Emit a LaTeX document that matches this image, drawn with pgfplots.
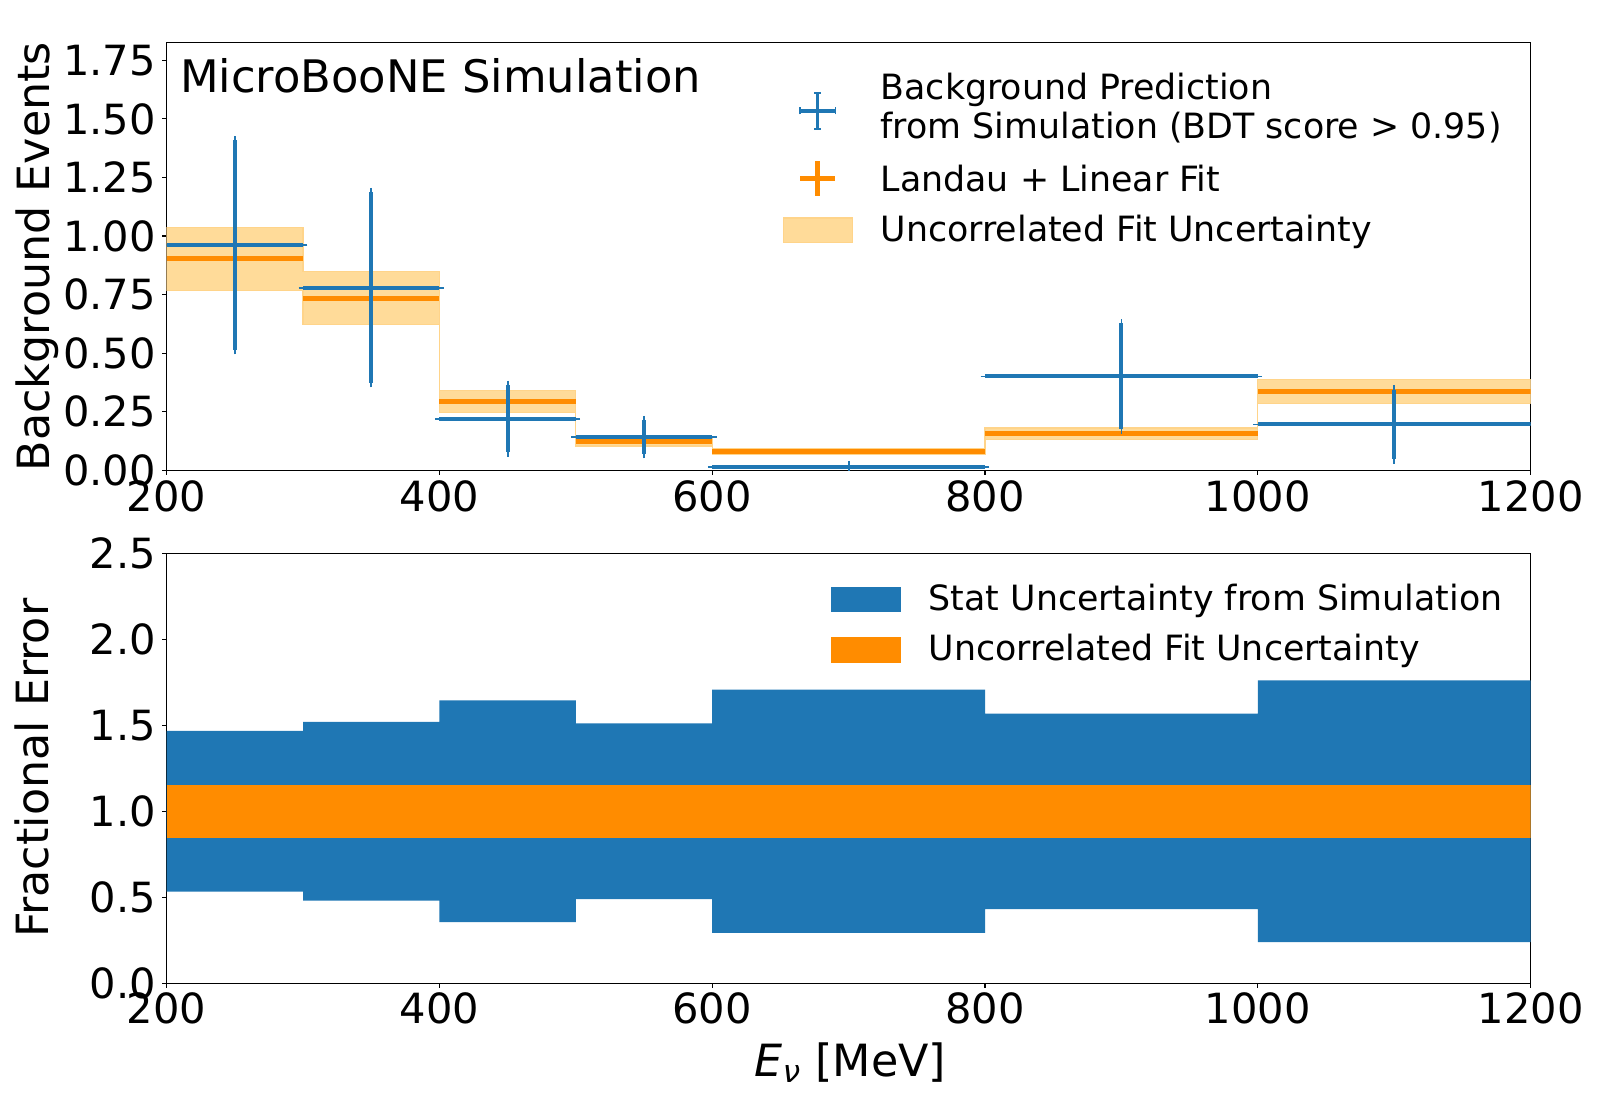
\documentclass[border=0pt]{standalone}
\usepackage{pgfplots}
\pgfplotsset{compat=1.18}
\usepackage{fontspec}
\setmainfont{DejaVu Sans}
\definecolor{c0}{HTML}{1F77B4}
\definecolor{dorange}{HTML}{FF8C00}
\definecolor{band}{HTML}{FFDB99}
\definecolor{bandedge}{HTML}{FFD48A}

\pgfplotstableread{
x y xe ye
250 0.961 50 0.447
350 0.780 50 0.407
450 0.221 50 0.143
550 0.142 50 0.072
700 0.013 100 0.009
900 0.401 100 0.226
1100 0.196 100 0.149
}\simdata
\pgfplotstableread{
x y xe
250 0.906 50
350 0.735 50
450 0.294 50
550 0.123 50
700 0.079 100
900 0.157 100
1100 0.337 100
}\fitdata

\pgfplotsset{
  myaxis/.style={
    scale only axis, width=682pt, anchor=south west,
    xmin=200, xmax=1200,
    xtick={200,400,600,800,1000,1200},
    axis line style={line width=0.55pt},
    tick align=outside, tick pos=left,
    major tick length=2.2pt,
    every tick/.style={black, line width=0.55pt},
    /pgf/number format/assume math mode=true,
    /pgf/number format/1000 sep={},
    tick label style={font=\fontsize{20.8}{24}\selectfont, inner sep=0pt},
    xticklabel style={yshift=-2.5pt},
    yticklabel style={xshift=-3pt},
    legend style={draw=none, fill=none, inner sep=0pt, outer sep=0pt,
      column sep=12pt, row sep=0pt,
      cells={anchor=base west, inner sep=0pt},
      font=\fontsize{17.4}{19.8}\selectfont},
  }
}

\begin{document}
\begin{tikzpicture}
\path[use as bounding box] (0,0) rectangle (800pt,550pt);

% ---------------- top panel ----------------
\begin{axis}[myaxis, height=213.85pt, at={(83.3pt,314.8pt)},
  ymin=0, ymax=1.825,
  ytick={0,0.25,0.5,0.75,1,1.25,1.5,1.75},
  yticklabel style={/pgf/number format/.cd, fixed, fixed zerofill, precision=2},
  legend style={at={(rel axis cs:0,1)}, anchor=north west, xshift=308.05pt, yshift=-14.3pt},
]
\addplot[fill=band, draw=bandedge, line width=0.6pt, forget plot] coordinates {
(200,1.038)(300,1.038)(300,0.848)(400,0.848)(400,0.340)(500,0.340)(500,0.142)(600,0.142)
(600,0.091)(800,0.091)(800,0.181)(1000,0.181)(1000,0.389)(1200,0.389)
(1200,0.285)(1000,0.285)(1000,0.133)(800,0.133)(800,0.067)(600,0.067)(600,0.104)(500,0.104)
(500,0.248)(400,0.248)(400,0.621)(300,0.621)(300,0.766)(200,0.766)} -- cycle;

\addplot[draw=none, mark=none, forget plot,
  error bars/.cd, x dir=both, x explicit, error mark=none,
  error bar style={draw=dorange, line width=2.5pt}]
  table[x=x, y=y, x error=xe] {\fitdata};

\addplot[draw=none, mark=none, forget plot,
  error bars/.cd, x dir=both, x explicit, y dir=both, y explicit,
  error bar style={draw=c0, line width=2pt},
  error mark options={draw=c0, line width=0.9pt, mark size=2.2pt}]
  table[x=x, y=y, x error=xe, y error=ye] {\simdata};

\addlegendimage{legend image code/.code={
  \path[draw=none, fill=none] (0pt,-23.1pt) rectangle (35pt,14pt);
  \draw[c0, line width=1.6pt] (8.6pt,-5.85pt) -- (26.4pt,-5.85pt);
  \draw[c0, line width=1.6pt] (17.5pt,-14.85pt) -- (17.5pt,3.15pt);
  \draw[c0, line width=0.7pt] (8.6pt,-7.6pt) -- (8.6pt,-4.1pt);
  \draw[c0, line width=0.7pt] (26.4pt,-7.6pt) -- (26.4pt,-4.1pt);
  \draw[c0, line width=0.7pt] (15.8pt,-14.85pt) -- (19.2pt,-14.85pt);
  \draw[c0, line width=0.7pt] (15.8pt,3.15pt) -- (19.2pt,3.15pt);
}}
\addlegendentry{\smash{\begin{tabular}[t]{@{}l@{}}Background Prediction\\from Simulation (BDT score > 0.95)\end{tabular}}}
\addlegendimage{legend image code/.code={
  \path[draw=none, fill=none] (0pt,-12.5pt) rectangle (35pt,23.1pt);
  \draw[dorange, line width=2.5pt] (8.75pt,6.7pt) -- (26.25pt,6.7pt);
  \draw[dorange, line width=2.5pt] (17.5pt,-2.05pt) -- (17.5pt,15.45pt);
}}
\addlegendentry{\smash{Landau + Linear Fit}}
\addlegendimage{legend image code/.code={
  \path[draw=none, fill=none] (0pt,-5pt) rectangle (35pt,12.5pt);
  \filldraw[fill=band, draw=bandedge, line width=0.6pt] (0.3pt,-0.5pt) rectangle (34.7pt,11.85pt);
}}
\addlegendentry{\smash{Uncorrelated Fit Uncertainty}}

\node[anchor=base west, inner sep=0pt, xshift=6.6pt, yshift=-25.15pt,
  font=\fontsize{22.4}{26}\selectfont] at (rel axis cs:0,1) {MicroBooNE Simulation};
\end{axis}

% ---------------- bottom panel ----------------
\begin{axis}[myaxis, height=215pt, at={(83.3pt,58.35pt)},
  ymin=0, ymax=2.5,
  ytick={0,0.5,1,1.5,2,2.5},
  yticklabel style={/pgf/number format/.cd, fixed, fixed zerofill, precision=1},
  legend style={at={(rel axis cs:0,1)}, anchor=north west, xshift=332.05pt, yshift=-16.1pt},
]
\addplot[fill=c0, draw=none, forget plot] coordinates {
(200,1.467)(300,1.467)(300,1.520)(400,1.520)(400,1.645)(500,1.645)(500,1.511)(600,1.511)
(600,1.707)(800,1.707)(800,1.568)(1000,1.568)(1000,1.761)(1200,1.761)
(1200,0.239)(1000,0.239)(1000,0.432)(800,0.432)(800,0.293)(600,0.293)(600,0.489)(500,0.489)
(500,0.355)(400,0.355)(400,0.480)(300,0.480)(300,0.533)(200,0.533)} -- cycle;
\addplot[fill=dorange, draw=none, forget plot] coordinates {
(200,1.155)(1200,1.155)(1200,0.845)(200,0.845)} -- cycle;

\addlegendimage{legend image code/.code={
  \path[draw=none, fill=none] (0pt,-12.575pt) rectangle (34.65pt,12.575pt);
  \fill[c0] (0pt,-0.5pt) rectangle (34.65pt,11.85pt);
}}
\addlegendentry{\smash{Stat Uncertainty from Simulation}}
\addlegendimage{legend image code/.code={
  \path[draw=none, fill=none] (0pt,-12.575pt) rectangle (34.65pt,12.575pt);
  \fill[dorange] (0pt,-0.5pt) rectangle (34.65pt,11.85pt);
}}
\addlegendentry{\smash{Uncorrelated Fit Uncertainty}}
\end{axis}

% ---------------- axis labels ----------------
\node[rotate=90, anchor=base, inner sep=0pt, font=\fontsize{22.2}{26}\selectfont]
  at (24.6pt,421.7pt) {Background Events};
\node[rotate=90, anchor=base, inner sep=0pt, font=\fontsize{22.2}{26}\selectfont]
  at (24.3pt,165.85pt) {Fractional Error};
\node[anchor=base, inner sep=0pt, font=\fontsize{22.2}{26}\selectfont]
  at (425.25pt,11.65pt) {\textit{E}\textsubscript{\textit{ν}} [MeV]};
\end{tikzpicture}
\end{document}
